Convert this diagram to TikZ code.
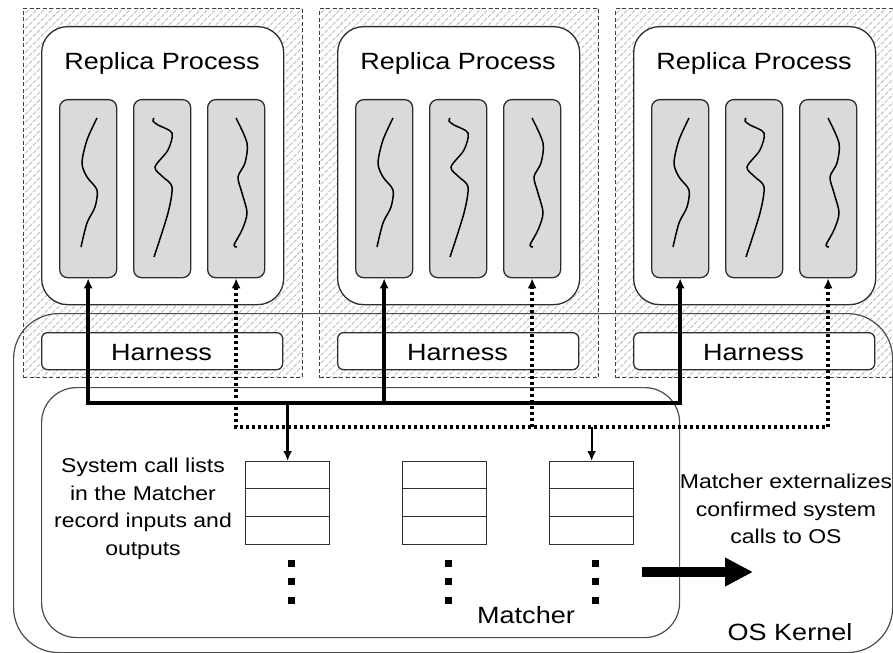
\documentclass[tikz,border=0pt]{standalone}
\usepackage{fontspec}
\setmainfont[FakeStretch=1.15]{Liberation Sans}
\usetikzlibrary{arrows.meta,patterns.meta}
\definecolor{edge}{HTML}{2E2E2E}
\definecolor{thrfill}{HTML}{DADADA}
\definecolor{hatch}{HTML}{BDBDBD}
\tikzset{
 big/.style={font=\fontsize{23.5bp}{28bp}\selectfont, inner sep=0},
 small/.style={font=\fontsize{20bp}{27.5bp}\selectfont, align=center, inner sep=0},
 box/.style={rectangle, inner sep=0, anchor=north west, draw=edge, line width=1.3bp},
 dashbox/.style={box, draw=black!75, dash pattern=on 4bp off 2.5bp, line width=1.1bp, pattern={Lines[angle=45,distance=5.5bp,line width=0.9bp]}, pattern color=hatch},
 rpbox/.style={box, fill=white, rounded corners=26bp, minimum width=242bp, minimum height=278bp},
 thbox/.style={box, fill=thrfill, rounded corners=8bp, minimum width=57bp, minimum height=178bp},
 hbox/.style={box, fill=white, rounded corners=6bp, minimum width=241bp, minimum height=37bp},
 listbox/.style={box, fill=white, minimum width=84bp, minimum height=83bp},
 thr/.style={line width=1.5bp, black},
 bus/.style={line width=3.4bp, black},
 dbus/.style={line width=3.4bp, black, dash pattern=on 3bp off 3bp},
 tip/.style={-{Latex[length=10bp,width=9bp]}},
 tips/.style={{Latex[length=10bp,width=9bp]}-{Latex[length=10bp,width=9bp]}},
}
\begin{document}
\begin{tikzpicture}[x=1bp,y=-1bp]
\useasboundingbox (0,0) rectangle (893,653);
% dashed hatched replica containers
\foreach \i/\x in {1/0,2/296,3/592}{
  \node[dashbox, minimum width=279bp, minimum height=369bp] (d\i) at (23+\x,8) {};
}
% OS kernel
\node[box, draw=black!70, rounded corners=45bp, minimum width=879bp, minimum height=339bp, line width=1.2bp] (kernel) at (13,313) {};
% replicas
\foreach \i/\x in {1/41,2/337,3/633}{
  \node[rpbox] (rp\i) at (\x,26) {};
  \node[big, anchor=base] (rpl\i) at (\x+121,70) {Replica Process};
  \node[thbox] (t\i1) at (\x+18,99) {};
  \node[thbox] (t\i2) at (\x+92,99) {};
  \node[thbox] (t\i3) at (\x+166,99) {};
  \draw[thr, shift={(t\i1.north west)}] plot[smooth] coordinates{(38,19)(28,41)(23,64)(28,78)(38,91)(36,108)(28,124)(22,148)};
  \draw[thr, shift={(t\i2.north west)}] plot[smooth] coordinates{(21,19)(20,22)(25,26)(39,34)(35,51)(22,68)(30,78)(39,88)(35,114)(21,158)};
  \draw[thr, shift={(t\i3.north west)}] plot[smooth] coordinates{(29,19)(40,44)(38,64)(31,78)(35,94)(40,114)(35,131)(27,146)(30,148)};
  \node[hbox] (h\i) at (\x,332) {};
  \node[big, anchor=base] (hl\i) at (\x+120.5,360) {Harness};
}
% matcher
\node[box, draw=black!70, rounded corners=35bp, minimum width=638bp, minimum height=250bp, line width=1.2bp] (matcher) at (41,387) {};
\foreach \i/\x in {1/245,2/402,3/549}{
  \node[listbox] (l\i) at (\x,461) {};
  \draw[edge, line width=1.3bp] (\x,488.7) -- (\x+84,488.7);
  \draw[edge, line width=1.3bp] (\x,516.3) -- (\x+84,516.3);
  \foreach \dy in {16,34,53}{
    \fill[black] (\x+42+0.5,544+\dy) rectangle ++(7,7);
  }
}
\node[small, anchor=north] (sclt) at (143,458) {System call lists\\in the Matcher\\record inputs and\\outputs};
\node[small, anchor=north] (ext) at (786,474) {Matcher externalizes\\confirmed system\\calls to OS};
\node[big, anchor=base] (mt) at (526,623) {Matcher};
\node[big, anchor=base] (okl) at (790,640) {OS Kernel};
% buses
\coordinate (ys) at (0,403);
\coordinate (yd) at (0,427);
\draw[bus, tips] (t11.south) |- (t31.south |- ys) -- (t31.south);
\draw[bus, tip] (t21.south |- ys) -- (t21.south);
\draw[bus, tip] (l1.north |- ys) -- (l1.north);
\draw[dbus, tips] (t13.south) |- (t33.south |- yd) -- (t33.south);
\draw[dbus, tip] (t23.south |- yd) -- (t23.south);
\draw[line width=2.2bp, tip] (l3.north |- yd) -- (l3.north);
% externalize arrow
\coordinate (ba) at (642,572);
\coordinate (bb) at (753,572);
\draw[line width=10bp, -{Triangle[length=28bp,width=27bp]}] (ba) -- (bb);
\end{tikzpicture}
\end{document}
